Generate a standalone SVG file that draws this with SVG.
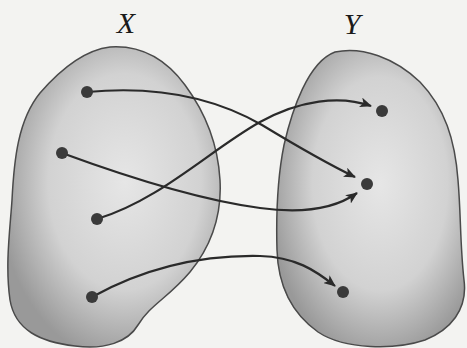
<svg xmlns="http://www.w3.org/2000/svg" width="467" height="348" viewBox="0 0 467 348">
<style>
.blob{stroke:#4a4a4a;stroke-width:1.5}
.lbl{font-family:"Liberation Serif",serif;font-style:italic;font-size:30px;fill:#1a1a1a;text-anchor:middle}
.dot{fill:#3a3a3a}
.arr{fill:none;stroke:#2a2a2a;stroke-width:2.2;marker-end:url(#ah)}
</style>
<defs>
<radialGradient id="g" cx="0.55" cy="0.45" r="0.6">
<stop offset="0" stop-color="#e6e6e6"/>
<stop offset="0.6" stop-color="#d2d2d2"/>
<stop offset="1" stop-color="#999"/>
</radialGradient>
<marker id="ah" viewBox="0 0 12 10" refX="11" refY="5" markerWidth="12" markerHeight="10" markerUnits="userSpaceOnUse" orient="auto">
<path d="M0,0 L12,5 L0,10 L3,5 Z" fill="#2a2a2a"/>
</marker>
</defs>
<rect width="467" height="348" fill="#f3f3f1"/>
<g id="setX">
<path class="blob" fill="url(#g)" d="M110,47 C140,45 165,58 185,85 C205,112 218,145 220,180 C222,215 212,245 190,272 C168,298 150,305 138,325 C128,342 105,350 75,346 C40,342 15,330 10,300 C5,265 10,230 12,200 C14,160 18,120 40,93 C60,70 85,50 110,47 Z"/>
<text class="lbl" x="126" y="33">X</text>
</g>
<g id="setY">
<path class="blob" fill="url(#g)" d="M335,52 C362,46 395,58 420,82 C445,108 455,140 458,180 C461,215 460,245 464,280 C468,310 450,330 425,340 C395,350 345,350 318,332 C290,312 278,285 277,250 C276,215 278,175 284,145 C292,110 308,62 335,52 Z"/>
<text class="lbl" x="352" y="34">Y</text>
</g>
<g id="connectors">
<path class="arr" d="M87,92 C150,86 210,95 262,125 C300,148 330,165 355,177"/>
<path class="arr" d="M62,153 C130,178 200,200 260,208 C310,215 340,205 357,193"/>
<path class="arr" d="M97,219 C160,200 210,150 260,122 C300,100 340,95 371,106"/>
<path class="arr" d="M92,297 C150,265 210,255 260,256 C295,257 315,270 335,286"/>
</g>
<g id="points">
<circle class="dot" cx="87" cy="92" r="6"/>
<circle class="dot" cx="62" cy="153" r="6"/>
<circle class="dot" cx="97" cy="219" r="6"/>
<circle class="dot" cx="92" cy="297" r="6"/>
<circle class="dot" cx="382" cy="111" r="6"/>
<circle class="dot" cx="367" cy="184" r="6"/>
<circle class="dot" cx="343" cy="292" r="6"/>
</g>
</svg>
